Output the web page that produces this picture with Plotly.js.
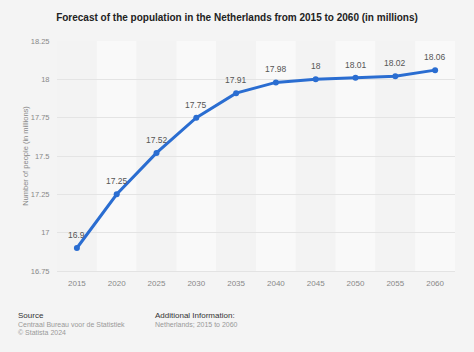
<!DOCTYPE html>
<html><head><meta charset="utf-8">
<script src="https://cdn.plot.ly/plotly-3.0.1.min.js"></script>
<style>html,body{margin:0;padding:0;background:#f4f4f4;}#chart{width:474px;height:352px;}</style>
</head><body><div id="chart"></div>
<script>
const years = [2015, 2020, 2025, 2030, 2035, 2040, 2045, 2050, 2055, 2060];
const population = [16.9, 17.25, 17.52, 17.75, 17.91, 17.98, 18, 18.01, 18.02, 18.06];
const labels = ["16.9", "17.25", "17.52", "17.75", "17.91", "17.98", "18", "18.01", "18.02", "18.06"];
const yTicks = [16.75, 17, 17.25, 17.5, 17.75, 18, 18.25];
const yTickText = ["16.75", "17", "17.25", "17.5", "17.75", "18", "18.25"];

const font = "Liberation Sans, Arial, sans-serif";
const W = 474, H = 352, ML = 57, MR = 19, MT = 41, MB = 81;
const plotW = W - ML - MR, plotH = H - MT - MB;
const px = x => (x - ML) / plotW;
const py = y => (H - MB - y) / plotH;

const shapes = years.map((yr, i) => ({
  type: 'rect', xref: 'x', yref: 'paper', layer: 'below',
  x0: yr - 2.5, x1: yr + 2.5, y0: 0, y1: 1,
  fillcolor: i % 2 === 1 ? '#f9f9f9' : '#f3f3f3', line: {width: 0}
}));

const trace = {
  x: years, y: population,
  type: 'scatter', mode: 'lines+markers',
  line: {color: '#2a6dd1', width: 3},
  marker: {color: '#2a6dd1', size: 6},
  cliponaxis: false, hoverinfo: 'none'
};

const dataLabels = years.map((yr, i) => ({
  x: yr, y: population[i], xref: 'x', yref: 'y', text: labels[i],
  showarrow: false, yshift: 13, xanchor: 'center', yanchor: 'middle',
  font: {family: font, size: 8.5, color: '#555'}
}));

const foot = (text, x, y, size, color) => ({
  text: text, x: px(x), y: py(y), xref: 'paper', yref: 'paper',
  xanchor: 'left', yanchor: 'middle', showarrow: false,
  font: {family: font, size: size, color: color}
});

const layout = {
  width: W, height: H,
  paper_bgcolor: '#f4f4f4', plot_bgcolor: '#f4f4f4',
  margin: {l: ML, r: MR, t: MT, b: MB},
  showlegend: false,
  title: {text: '<b>Forecast of the population in the Netherlands from 2015 to 2060 (in millions)</b>',
    font: {family: font, size: 10, color: '#222'},
    x: 0.5, xanchor: 'center', y: 1 - 17/H, yanchor: 'middle', yref: 'container'},
  xaxis: {range: [2012.5, 2062.5], tickvals: years, ticktext: years.map(String),
    showgrid: false, zeroline: false, showline: true, linecolor: '#e3e3e3', linewidth: 1,
    ticks: 'outside', ticklen: 4, tickcolor: 'rgba(0,0,0,0)',
    tickfont: {family: font, size: 8, color: '#888'}, fixedrange: true},
  yaxis: {range: [16.75, 18.25], tickvals: yTicks, ticktext: yTickText,
    showgrid: true, gridcolor: '#e4e4e4', gridwidth: 1, zeroline: false, showline: false,
    ticks: 'outside', ticklen: 5, tickcolor: 'rgba(0,0,0,0)',
    tickfont: {family: font, size: 7.5, color: '#888'},
    title: {text: 'Number of people (in millions)', font: {family: font, size: 7.5, color: '#888'}, standoff: 1},
    fixedrange: true},
  shapes: shapes,
  annotations: dataLabels.concat([
    foot('Source', 16, 315, 8, '#333'),
    foot('Centraal Bureau voor de Statistiek', 16, 324, 7, '#999'),
    foot('© Statista 2024', 16, 332, 7, '#999'),
    foot('Additional Information:', 153, 315, 8, '#333'),
    foot('Netherlands; 2015 to 2060', 153, 324, 7, '#999')
  ])
};
Plotly.newPlot('chart', [trace], layout, {displayModeBar: false, staticPlot: true});
</script></body></html>
